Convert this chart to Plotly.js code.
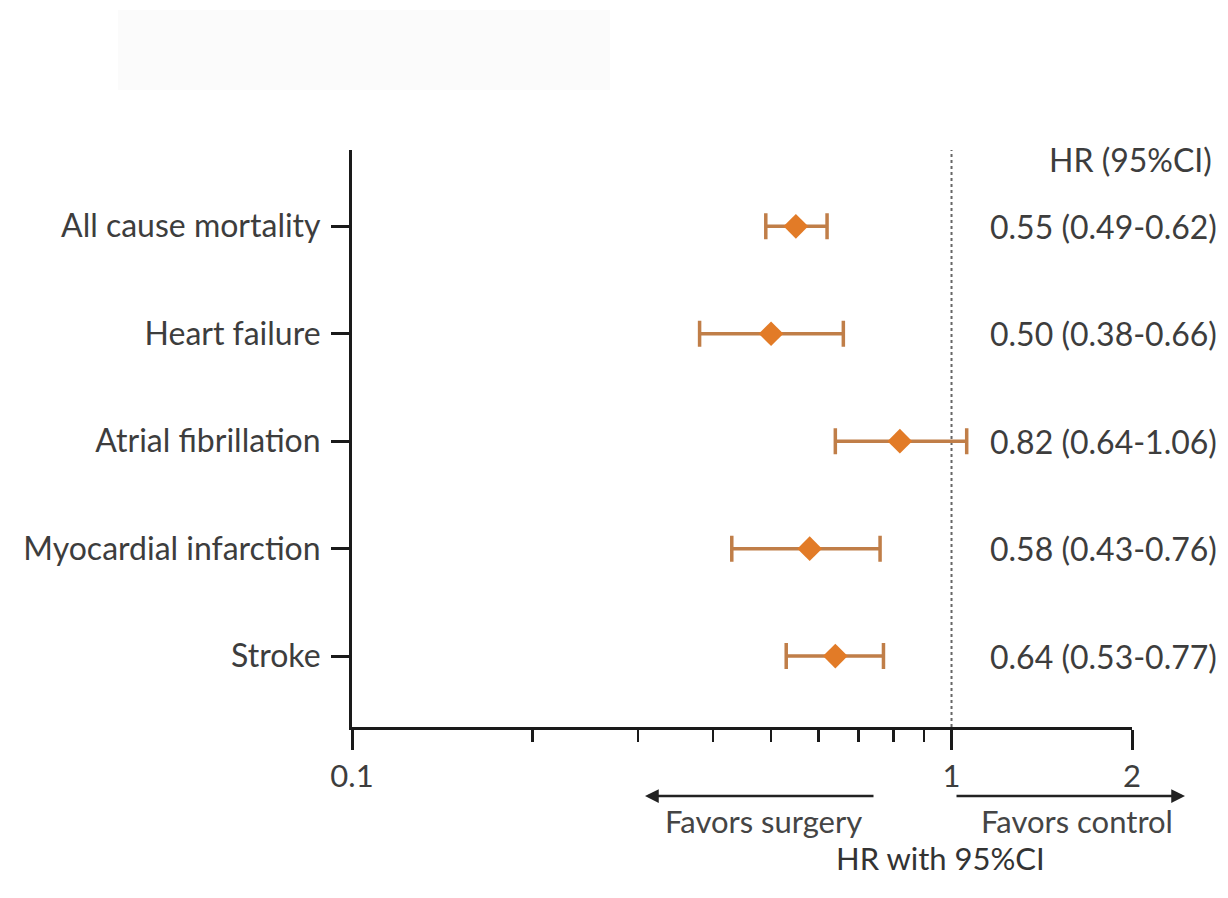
<!DOCTYPE html>
<html>
<head>
<meta charset="utf-8">
<script src="https://cdn.plot.ly/plotly-3.0.1.min.js"></script>
<style>
  html, body { margin: 0; padding: 0; background: #ffffff; }
  #chart { width: 1228px; height: 898px; }
</style>
</head>
<body>
<div id="chart"></div>
<script>
// Outcomes, top to bottom
const outcomes = ["All cause mortality", "Heart failure", "Atrial fibrillation", "Myocardial infarction", "Stroke"];
const rowPos   = [5, 4, 3, 2, 1];
// Hazard ratios with 95% confidence limits
const hr    = [0.55, 0.50, 0.82, 0.58, 0.64];
const ciLow = [0.49, 0.38, 0.64, 0.43, 0.53];
const ciHigh= [0.62, 0.66, 1.06, 0.76, 0.77];
// Axis ticks
const majorTicks = [0.1, 1, 2];
const majorLabels = ["0.1", "1", "2"];
const minorTicks = [0.2, 0.3, 0.4, 0.5, 0.6, 0.7, 0.8, 0.9];

const fmt = v => v.toFixed(2);
const hrText = hr.map((v, i) => fmt(v) + " (" + fmt(ciLow[i]) + "-" + fmt(ciHigh[i]) + ")");

const FONT = "Lato, 'Open Sans', sans-serif";
const TXT = "#3d3d3d";
const FS = 32;

const traces = [
  {
    // reference line at HR = 1
    type: "scatter", mode: "lines",
    x: [1, 1], y: [0.34, 5.71],
    line: { color: "#666666", width: 2, dash: "dot" },
    hoverinfo: "skip", showlegend: false
  },
  {
    type: "scatter", mode: "markers",
    x: hr, y: rowPos,
    marker: { symbol: "diamond", size: 19, color: "#e27b27", line: { width: 0 } },
    error_x: {
      type: "data", symmetric: false,
      array: hr.map((v, i) => ciHigh[i] - v),
      arrayminus: hr.map((v, i) => v - ciLow[i]),
      color: "#c07e48", thickness: 3.5, width: 13
    },
    showlegend: false
  }
];

const px = p => (p - 352) / 780;   // page x -> paper x
const py = p => (727 - p) / 577;   // page y -> paper y

const annotations = [];
// column header
annotations.push({
  xref: "paper", yref: "paper", x: px(1130), y: py(160),
  text: "HR (95%CI)", showarrow: false, xanchor: "center", yanchor: "middle",
  font: { family: FONT, size: FS, color: TXT }
});
// per-row HR text
hrText.forEach((t, i) => {
  annotations.push({
    xref: "paper", yref: "y", x: px(988), y: rowPos[i],
    text: t, showarrow: false, xanchor: "left", yanchor: "middle",
    font: { family: FONT, size: FS, color: TXT }
  });
});
// direction arrows
annotations.push({
  xref: "paper", yref: "paper", x: px(645), y: py(796),
  ax: 230, ay: 0, axref: "pixel", ayref: "pixel",
  showarrow: true, arrowhead: 2, arrowsize: 1.1, arrowwidth: 2.5, arrowcolor: "#222222", text: ""
});
annotations.push({
  xref: "paper", yref: "paper", x: px(1185), y: py(796),
  ax: -230, ay: 0, axref: "pixel", ayref: "pixel",
  showarrow: true, arrowhead: 2, arrowsize: 1.1, arrowwidth: 2.5, arrowcolor: "#222222", text: ""
});
annotations.push({
  xref: "paper", yref: "paper", x: px(763), y: py(821),
  text: "Favors surgery", showarrow: false, xanchor: "center", yanchor: "middle",
  font: { family: FONT, size: FS - 1, color: "#454545" }
});
annotations.push({
  xref: "paper", yref: "paper", x: px(1077), y: py(821),
  text: "Favors control", showarrow: false, xanchor: "center", yanchor: "middle",
  font: { family: FONT, size: FS - 1, color: "#454545" }
});
annotations.push({
  xref: "paper", yref: "paper", x: px(940), y: py(858),
  text: "HR with 95%CI", showarrow: false, xanchor: "center", yanchor: "middle",
  font: { family: FONT, size: FS - 1, color: "#333333" }
});

const layout = {
  width: 1228, height: 898,
  margin: { l: 352, r: 96, t: 150, b: 171 },
  paper_bgcolor: "#ffffff", plot_bgcolor: "#ffffff",
  showlegend: false,
  font: { family: FONT, size: FS, color: TXT },
  xaxis: {
    type: "log",
    range: [-1, Math.log10(2)],
    tickvals: majorTicks, ticktext: majorLabels,
    ticks: "outside", ticklen: 20, tickwidth: 3, tickcolor: "#1a1a1a",
    minor: { tickvals: minorTicks, ticks: "outside", ticklen: 12, tickwidth: 2.5, tickcolor: "#1a1a1a", showgrid: false },
    showline: true, linecolor: "#1a1a1a", linewidth: 3,
    showgrid: false, zeroline: false,
    tickfont: { family: FONT, size: FS - 1, color: "#3d3d3d" },
    ticklabelstandoff: 0,
    fixedrange: true
  },
  yaxis: {
    range: [0.34, 5.71],
    tickvals: rowPos, ticktext: outcomes,
    ticks: "outside", ticklen: 18, tickwidth: 3, tickcolor: "#1a1a1a",
    showline: true, linecolor: "#1a1a1a", linewidth: 3,
    showgrid: false, zeroline: false,
    tickfont: { family: FONT, size: FS, color: "#3d3d3d" },
    ticklabelstandoff: 4,
    fixedrange: true
  },
  shapes: [
    {
      // faint haze along the top of the page
      type: "rect", xref: "paper", yref: "paper", layer: "below",
      x0: px(118), x1: px(610), y0: py(90), y1: py(10),
      fillcolor: "#fbfbfb", line: { width: 0 }
    }
  ],
  annotations: annotations
};

Plotly.newPlot("chart", traces, layout, { displayModeBar: false, staticPlot: true });
</script>
</body>
</html>
